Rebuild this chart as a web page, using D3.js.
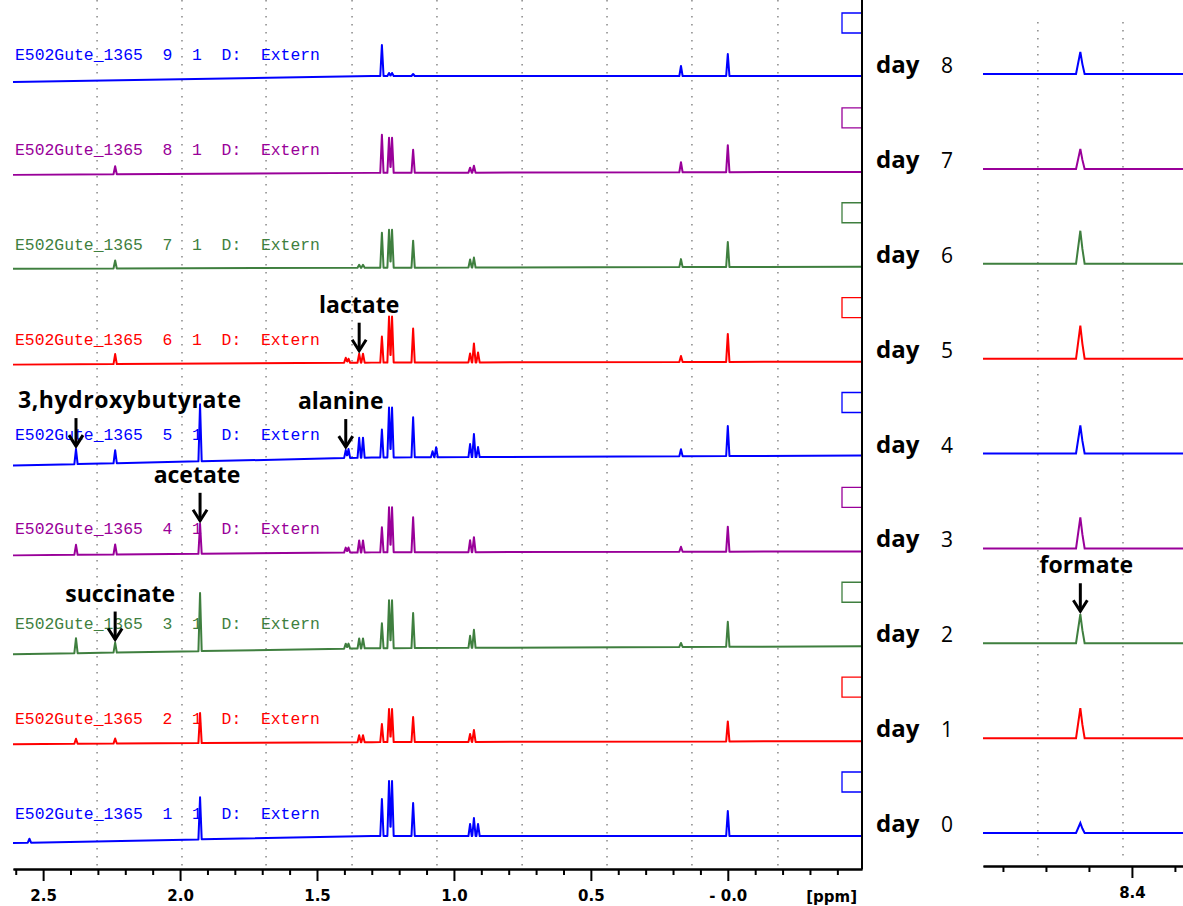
<!DOCTYPE html>
<html>
<head>
<meta charset="utf-8">
<script src="https://cdn.jsdelivr.net/npm/d3@7"></script>
<style>
  body { margin: 0; background: #fff; }
  svg { display: block; }
</style>
</head>
<body>
<div id="chart-area"></div>
<script>
const WIDTH = 1183;
const HEIGHT = 906;

// spectra, top to bottom
const DAYS = [8, 7, 6, 5, 4, 3, 2, 1, 0];
const EXPNOS = [9, 8, 7, 6, 5, 4, 3, 2, 1];

// peak positions (ppm) in the aliphatic window
const PEAK_PPM = [2.55, 2.38, 2.237, 1.927, 1.395, 1.385, 1.346, 1.332, 1.263, 1.237, 1.226,
  1.149, 1.078, 1.065, 0.941, 0.927, 0.912, 0.171, 0.0];

// peak heights per day, same order as PEAK_PPM
const PEAKS_DAY8 = [0, 0, 0, 0, 0, 0, 0, 0, 31, 3, 3, 2, 0, 0, 0, 0, 0, 10, 22];
const PEAKS_DAY7 = [0, 0, 8, 0, 0, 0, 0, 0, 38, 35, 35, 23, 0, 0, 5, 7, 0, 10, 27];
const PEAKS_DAY6 = [0, 0, 8, 0, 0, 0, 3, 3, 35, 38, 38, 27, 0, 0, 8, 10, 0, 8, 25];
const PEAKS_DAY5 = [0, 0, 10, 0, 5, 4, 9, 9, 26, 46, 46, 34, 0, 0, 9, 19, 10, 6, 28];
const PEAKS_DAY4 = [0, 15, 13, 57, 8, 9, 20, 20, 28, 50, 50, 40, 6, 10, 13, 23, 10, 7, 30];
const PEAKS_DAY3 = [0, 10, 10, 30, 5, 5, 12, 12, 25, 45, 45, 35, 0, 0, 12, 15, 0, 5, 25];
const PEAKS_DAY2 = [0, 15, 10, 58, 5, 5, 10, 10, 25, 48, 48, 35, 0, 0, 12, 18, 0, 4, 25];
const PEAKS_DAY1 = [0, 5, 5, 30, 0, 0, 7, 7, 18, 33, 33, 25, 0, 0, 8, 12, 0, 0, 20];
const PEAKS_DAY0 = [4, 0, 0, 42, 0, 0, 0, 0, 37, 55, 55, 33, 0, 0, 12, 18, 12, 0, 25];
const PEAKS = [PEAKS_DAY8, PEAKS_DAY7, PEAKS_DAY6, PEAKS_DAY5, PEAKS_DAY4,
  PEAKS_DAY3, PEAKS_DAY2, PEAKS_DAY1, PEAKS_DAY0];

// baseline level at a few ppm knots, per day
const DRIFT_PPM = [2.61, 1.3, -0.49];
const DRIFT = [[-4, 2, 2], [-2, 0, 1], [-1, 0, 1], [-2, 0, 1], [-8, 0, 2],
  [-3, 0, 1], [-7, -1, 1], [-2, 0, 1], [-6, 1, 1]];

// formate window
const FORMATE_PPM = 8.43;
const FORMATE_HEIGHTS = [22, 20, 33, 33, 28, 31, 29, 30, 10];

// axes
const MAJOR_TICKS = [2.5, 2.0, 1.5, 1.0, 0.5, 0.0];
const MINOR_TICKS = [2.6, 2.4, 2.3, 2.2, 2.1, 1.9, 1.8, 1.7, 1.6, 1.4, 1.3, 1.2, 1.1,
  0.9, 0.8, 0.7, 0.6, 0.4, 0.3, 0.2, 0.1, -0.1, -0.2, -0.3, -0.4];
const GRID_PPM = [2.303, 1.993, 1.686, 1.372, 1.062, 0.751, 0.441, 0.131, -0.183];
const RIGHT_MAJOR = [8.4];
const RIGHT_MINOR = [8.475, 8.45, 8.425, 8.375];
const RIGHT_GRID = [8.4547, 8.4052];

const ANNOTATIONS = [
  {label: 'lactate', ppm: 1.346, day: 5, peak: 6, panel: 'main', dx: 0, anchor: 'middle'},
  {label: 'alanine', ppm: 1.395, day: 4, peak: 4, panel: 'main', dx: -5, anchor: 'middle'},
  {label: '3,hydroxybutyrate', ppm: 2.38, day: 4, peak: 1, panel: 'main', dx: -58, anchor: 'start'},
  {label: 'acetate', ppm: 1.927, day: 3, peak: 3, panel: 'main', dx: -3, anchor: 'middle'},
  {label: 'succinate', ppm: 2.237, day: 2, peak: 2, panel: 'main', dx: 5, anchor: 'middle'},
  {label: 'formate', ppm: FORMATE_PPM, day: 2, peak: -1, panel: 'right', dx: 6, anchor: 'middle'},
];

const COLORS = ['#0000ff', '#990099', '#3f7f3f', '#ff0000', '#0000ff',
  '#990099', '#3f7f3f', '#ff0000', '#0000ff'];

const HALF_WIDTH = 0.006;

main();

function main() {
  const svg = d3.select('#chart-area').append('svg')
    .attr('width', WIDTH)
    .attr('height', HEIGHT);

  const xMain = d3.scaleLinear().domain([2.61, -0.49]).range([13, 862]);
  const xRight = d3.scaleLinear().domain([8.4866, 8.3703]).range([983, 1183]);
  const row = d3.scalePoint().domain(DAYS).range([78, 837]);

  drawGrid(svg, xMain, GRID_PPM, 0, 866);
  drawGrid(svg, xRight, RIGHT_GRID, 22, 862);

  // spectra
  DAYS.forEach((day, i) => {
    const drift = d3.scaleLinear().domain(DRIFT_PPM).range(DRIFT[i]);
    const y = d3.scaleLinear().domain([0, 100]).range([row(day), row(day) - 100]);
    const peaks = PEAK_PPM.map((p, k) => [p, PEAKS[i][k]]).filter(d => d[1] > 0);
    // envelope of the peak lines, evaluated at each line's foot and top
    const at = p => drift(p) + d3.max(peaks, ([c, h]) =>
      Math.max(0, h * (1 - Math.abs(p - c) / HALF_WIDTH))) || drift(p);
    const xs = DRIFT_PPM.slice();
    peaks.forEach(([c]) => xs.push(c + HALF_WIDTH, c, c - HALF_WIDTH));
    xs.sort((a, b) => b - a);
    svg.append('path')
      .attr('d', d3.line().x(p => xMain(p)).y(p => y(at(p)))(xs))
      .attr('fill', 'none')
      .attr('stroke', COLORS[i])
      .attr('stroke-width', 2)
      .attr('stroke-linejoin', 'round');

    // formate window
    const yr = d3.scaleLinear().domain([0, 100]).range([row(day) - 4, row(day) - 104]);
    const h = FORMATE_HEIGHTS[i];
    const fpts = [[8.4866, 0], [FORMATE_PPM + 0.0025, 0], [FORMATE_PPM, h],
      [FORMATE_PPM - 0.0012, h * 0.45], [FORMATE_PPM - 0.0025, 0], [8.3703, 0]];
    svg.append('path')
      .attr('d', d3.line().x(d => xRight(d[0])).y(d => yr(d[1]))(fpts))
      .attr('fill', 'none')
      .attr('stroke', COLORS[i])
      .attr('stroke-width', 2);

    // title text
    svg.append('text')
      .attr('x', 15)
      .attr('y', row(day) - 18)
      .attr('fill', COLORS[i])
      .attr('font-family', '"Liberation Mono", "Courier New", monospace')
      .attr('font-size', 16.4)
      .text(`E502Gute_1365  ${EXPNOS[i]}  1  D:  Extern`.replace(/ /g, '\u00a0'));

    // colour box
    const top = row(day) - 65;
    svg.append('path')
      .attr('d', `M862,${top}H842V${top + 20}H862`)
      .attr('fill', 'none')
      .attr('stroke', COLORS[i])
      .attr('stroke-width', 1.3);

    // day label
    const lab = svg.append('text')
      .attr('x', 876)
      .attr('y', row(day) - 5)
      .attr('font-family', '"Open Sans", sans-serif')
      .attr('fill', '#000');
    lab.append('tspan').attr('font-weight', 'bold').attr('font-size', 24).text('day');
    lab.append('tspan').attr('x', 941).attr('font-size', 21).text(day);
  });

  // frame line
  svg.append('line')
    .attr('x1', 862).attr('x2', 862)
    .attr('y1', 0).attr('y2', 869)
    .attr('stroke', '#000')
    .attr('stroke-width', 2);

  drawAxis(svg, xMain, 869, MAJOR_TICKS, MINOR_TICKS,
    d => d === 0 ? '- 0.0' : d.toFixed(1));
  drawAxis(svg, xRight, 866, RIGHT_MAJOR, RIGHT_MINOR, d => d.toFixed(1));

  svg.append('text')
    .attr('x', 857)
    .attr('y', 902)
    .attr('text-anchor', 'end')
    .attr('font-family', '"DejaVu Sans", sans-serif')
    .attr('font-weight', 'bold')
    .attr('font-size', 15)
    .text('[ppm]');

  // annotations
  ANNOTATIONS.forEach(a => {
    const i = DAYS.indexOf(a.day);
    let x, tip;
    if (a.panel === 'main') {
      const drift = d3.scaleLinear().domain(DRIFT_PPM).range(DRIFT[i]);
      x = xMain(a.ppm);
      tip = row(a.day) - drift(a.ppm) - PEAKS[i][a.peak] - 3;
    } else {
      x = xRight(a.ppm);
      tip = row(a.day) - 4 - FORMATE_HEIGHTS[i] - 3;
    }
    const g = svg.append('g');
    g.append('line')
      .attr('x1', x).attr('x2', x)
      .attr('y1', tip - 28).attr('y2', tip)
      .attr('stroke', '#000')
      .attr('stroke-width', 3);
    g.append('path')
      .attr('d', `M${x - 7},${tip - 11}L${x},${tip}L${x + 7},${tip - 11}`)
      .attr('fill', 'none')
      .attr('stroke', '#000')
      .attr('stroke-width', 3);
    g.append('text')
      .attr('x', x + a.dx)
      .attr('y', tip - 38)
      .attr('text-anchor', a.anchor)
      .attr('font-family', '"Open Sans", sans-serif')
      .attr('font-weight', 'bold')
      .attr('font-size', 23)
      .attr('textLength', a.label.length > 10 ? 223 : null)
      .text(a.label);
  });
}

function drawGrid(svg, x, values, y1, y2) {
  svg.append('g')
    .selectAll('line')
    .data(values)
    .enter()
    .append('line')
    .attr('x1', d => x(d)).attr('x2', d => x(d))
    .attr('y1', y1).attr('y2', y2)
    .attr('stroke', '#888')
    .attr('stroke-width', 1.5)
    .attr('stroke-dasharray', '1.5,6.5');
}

function drawAxis(svg, x, y, major, minor, fmt) {
  const minorCall = d3.axisBottom(x)
    .tickValues(minor)
    .tickSizeInner(6)
    .tickSizeOuter(0)
    .tickFormat('');
  const gMinor = svg.append('g')
    .attr('transform', `translate(0, ${y})`)
    .call(minorCall);

  const majorCall = d3.axisBottom(x)
    .tickValues(major)
    .tickSizeInner(12)
    .tickSizeOuter(0)
    .tickPadding(9)
    .tickFormat(fmt);
  const gMajor = svg.append('g')
    .attr('transform', `translate(0, ${y})`)
    .call(majorCall);

  [gMinor, gMajor].forEach(g => {
    g.selectAll('path, line').attr('stroke', '#000').attr('stroke-width', 2);
    g.selectAll('text')
      .attr('fill', '#000')
      .attr('font-family', '"DejaVu Sans", sans-serif')
      .attr('font-weight', 'bold')
      .attr('font-size', 15);
  });
}
</script>
</body>
</html>
